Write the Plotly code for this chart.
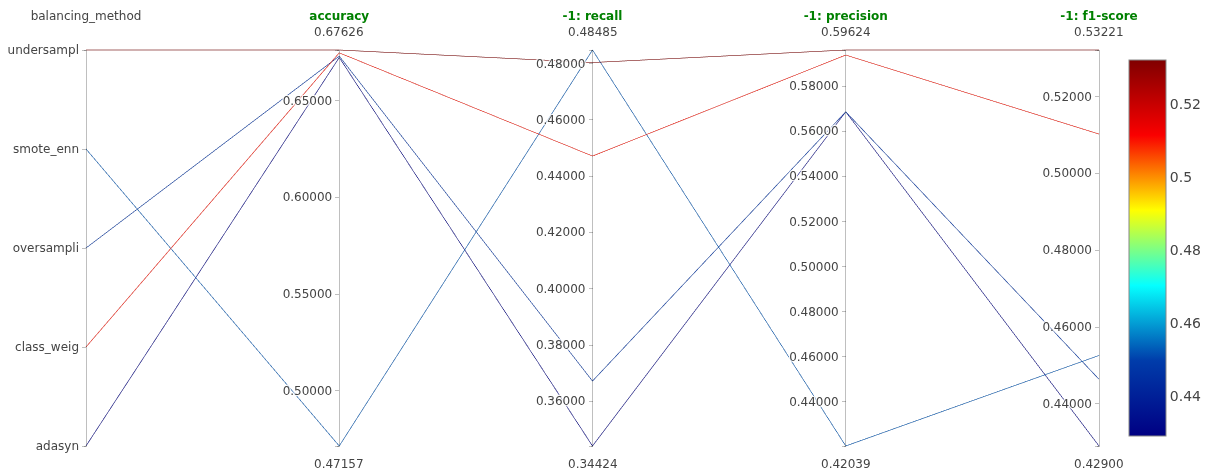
import plotly.graph_objects as go

# balancing methods coded 0..4 for the categorical axis
methods = ['undersampling', 'class_weight', 'oversampling', 'adasyn', 'smote_enn']
method_code = [4, 1, 2, 0, 3]
tick_vals = [0, 1, 2, 3, 4]
tick_text = ['adasyn', 'class_weig', 'oversampli', 'smote_enn', 'undersampl']

accuracy = [0.67626, 0.6748, 0.6731, 0.6724, 0.47157]
recall = [0.4804, 0.4472, 0.3673, 0.34424, 0.48485]
precision = [0.59624, 0.5940, 0.5688, 0.5688, 0.42039]
f1_score = [0.53221, 0.5103, 0.4464, 0.42900, 0.4526]

acc_ticks = [0.50, 0.55, 0.60, 0.65]
rec_ticks = [0.36, 0.38, 0.40, 0.42, 0.44, 0.46, 0.48]
prec_ticks = [0.44, 0.46, 0.48, 0.50, 0.52, 0.54, 0.56, 0.58]
f1_ticks = [0.44, 0.46, 0.48, 0.50, 0.52]


def green(s):
    return "<span style='color:green'><b>%s</b></span>" % s


def num_dim(name, vals, ticks):
    # ends of the data range get blank ticks so the axis line spans the full range
    tv = [min(vals)] + ticks + [max(vals)]
    tt = [' '] + ['%.5f' % t for t in ticks] + ['  ']
    return dict(label=green(name), values=vals, tickvals=tv, ticktext=tt)


numeric = [('accuracy', accuracy, acc_ticks),
           ('-1: recall', recall, rec_ticks),
           ('-1: precision', precision, prec_ticks),
           ('-1: f1-score', f1_score, f1_ticks)]

dims = [dict(label='balancing_method', values=method_code,
             tickvals=tick_vals, ticktext=tick_text)]
dims += [num_dim(n, v, t) for n, v, t in numeric]

fig = go.Figure(go.Parcoords(
    line=dict(color=f1_score, colorscale='Jet', showscale=True,
              colorbar=dict(thickness=37, outlinewidth=1, outlinecolor='#888',
                            ypad=12, tickfont=dict(size=14, color='#444'))),
    labelfont=dict(size=12, color='#444'),
    tickfont=dict(size=12, color='#444'),
    rangefont=dict(size=12, color='#444'),
    dimensions=dims,
))

# min / max labels above and below each numeric axis
n_axes = len(dims)
for i, (n, v, t) in enumerate(numeric, start=1):
    xp = i / (n_axes - 1)
    fig.add_annotation(x=xp, y=1, xref='paper', yref='paper', text='%.5f' % max(v),
                       showarrow=False, xanchor='center', yanchor='middle', yshift=16,
                       font=dict(size=12, color='#444'))
    fig.add_annotation(x=xp, y=0, xref='paper', yref='paper', text='%.5f' % min(v),
                       showarrow=False, xanchor='center', yanchor='middle', yshift=-16,
                       font=dict(size=12, color='#444'))

fig.update_layout(
    width=1213, height=475,
    template='none',
    margin=dict(l=78, r=119, t=40, b=35),
    font=dict(family='DejaVu Sans', size=12, color='#444'),
    paper_bgcolor='white', plot_bgcolor='white',
)

fig.write_html("out.html")
